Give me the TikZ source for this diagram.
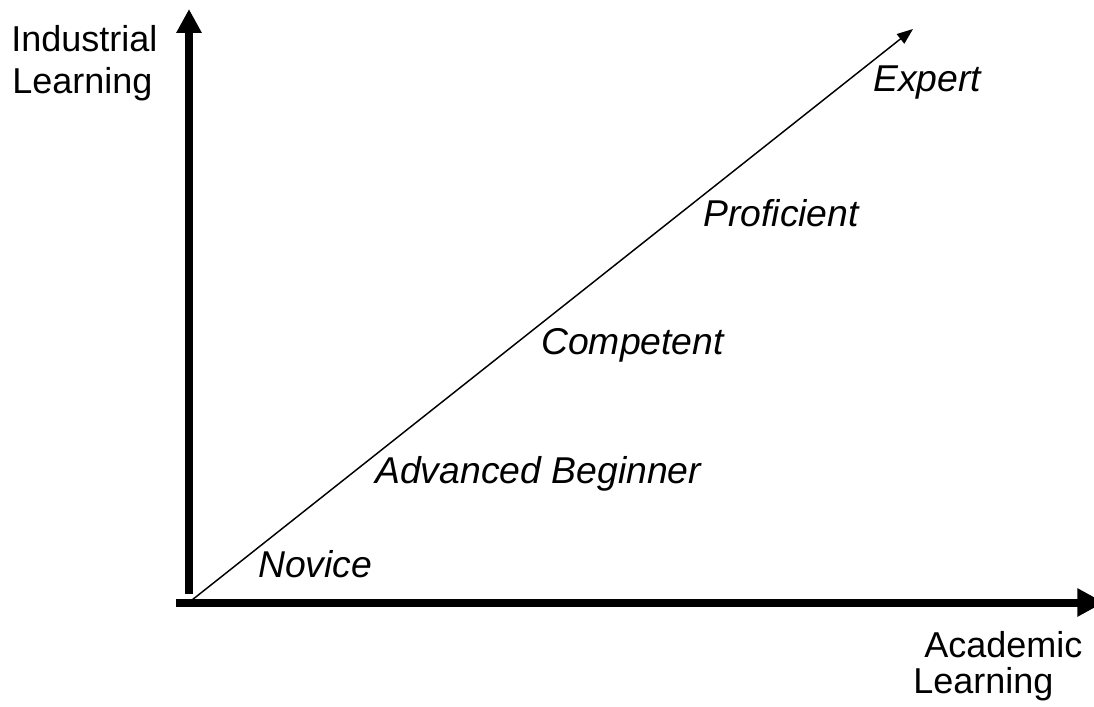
\documentclass[tikz,border=0pt]{standalone}
\usepackage{fontspec}
\setmainfont{Liberation Sans}
\usetikzlibrary{arrows.meta}
\begin{document}
\begin{tikzpicture}[x=0.75pt,y=-0.75pt,
  axislabel/.style={anchor=base west,inner sep=0pt,font=\fontsize{27}{31}\selectfont},
  stagelabel/.style={anchor=base west,inner sep=0pt,font=\fontsize{28}{33}\selectfont\itshape},
  axisline/.style={line width=6pt,line cap=butt},
  pathline/.style={line width=1.1pt,-{Triangle[length=12pt,width=9pt]}}]
\useasboundingbox (0,0) rectangle (1094,706);
\clip (0,0) rectangle (1094,706);
\fill[white] (0,0) rectangle (1094,706);
% coordinates
\coordinate (ybot) at (189,594);
\coordinate (ytop) at (189,9);
\coordinate (xleft) at (176,602.5);
\coordinate (xright) at (1104,602.5);
\coordinate (dstart) at (192,600);
\coordinate (dend) at (913,29);
% axes
\draw[axisline,-{Triangle[length=18pt,width=18pt]}] (ybot) -- (ytop);
\draw[axisline,-{Triangle[length=20pt,width=20pt]}] (xleft) -- (xright);
\draw[pathline] (dstart) -- (dend);
% axis labels
\node[axislabel] (ind) at (11,52) {Industrial};
\node[axislabel] (lrn1) at (12,94) {Learning};
\node[axislabel] (acad) at (924,657) {Academic};
\node[axislabel] (lrn2) at (913,693) {Learning};
% stage labels
\node[stagelabel] (nov) at (258,577) {Novice};
\node[stagelabel] (adv) at (375,483) {Advanced Beginner};
\node[stagelabel] (comp) at (541,354) {Competent};
\node[stagelabel] (prof) at (703,226) {Proficient};
\node[stagelabel] (exp) at (873,92) {Expert};
\end{tikzpicture}
\end{document}
